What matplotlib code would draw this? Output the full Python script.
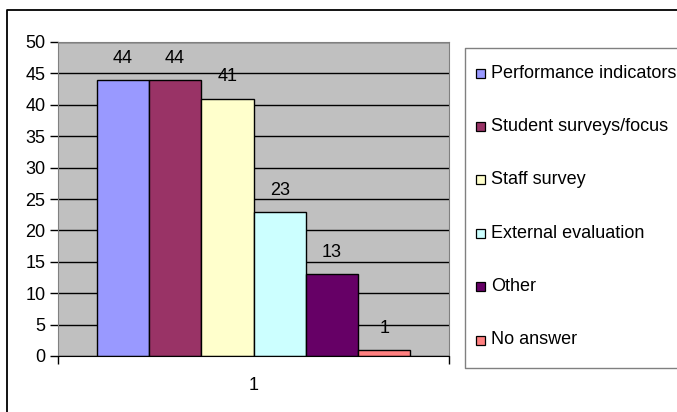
import matplotlib.pyplot as plt
from matplotlib.patches import Rectangle
from matplotlib.lines import Line2D

# datos de la encuesta
categorias = ["Performance indicators", "Student surveys/focus", "Staff survey",
              "External evaluation", "Other", "No answer"]
valores = [44, 44, 41, 23, 13, 1]
colores = ["#9999FF", "#993366", "#FFFFCC", "#CCFFFF", "#660066", "#FF8080"]
etiqueta_x = ["1"]

plt.rcParams["font.family"] = ["Liberation Sans", "DejaVu Sans"]
plt.rcParams["font.size"] = 13

W, H = 677, 412
fig = plt.figure(figsize=(W / 100, H / 100), dpi=100)


def linea(xs, ys, color, lw):
    # linea en pixeles de la figura (y medida desde arriba)
    fig.lines.append(Line2D([x / W for x in xs], [1 - y / H for y in ys],
                            transform=fig.transFigure, color=color, linewidth=lw))


# marco exterior: solo borde izquierdo y superior quedan dentro de la imagen
linea([7, 7, W + 5], [H + 5, 10, 10], "black", 1.3)

ax = fig.add_axes([58 / W, (H - 356) / H, 391 / W, 314 / H])
ax.set_facecolor("#C0C0C0")

n = len(valores)
ancho = 0.803 / n
posiciones = [(i - (n - 1) / 2) * ancho for i in range(n)]
barras = ax.bar(posiciones, valores, width=ancho, color=colores,
                edgecolor="black", linewidth=1, zorder=3)

for x, v in zip(posiciones, valores):
    ax.annotate(str(v), (x, v), xytext=(0, 15.5), textcoords="offset points",
                ha="center", va="center")

ax.set_xlim(-0.5, 0.5)
ax.set_ylim(0, 50)
ax.set_yticks(range(0, 51, 5))
ax.yaxis.grid(True, color="black", linewidth=1)
ax.set_axisbelow(True)
ax.tick_params(axis="y", direction="out", length=6, width=1, color="black", pad=3)

ax.set_xticks([0])
ax.set_xticklabels(etiqueta_x)
ax.set_xticks([-0.5, 0.5], minor=True)
ax.tick_params(axis="x", which="major", length=0, pad=15)
ax.tick_params(axis="x", which="minor", length=6, width=1, color="black")

for lado in ["top", "right", "left"]:
    ax.spines[lado].set_color("#808080")
ax.spines["bottom"].set_color("black")
ax.spines["bottom"].set_zorder(4)

# leyenda dibujada a mano, abierta por la derecha
linea([W + 5, 465, 465, W + 5], [48, 48, 368, 368], "#808080", 1)
for i, (cat, col) in enumerate(zip(categorias, colores)):
    yc = 73 + i * 53.4
    fig.text(491 / W, 1 - yc / H, cat, va="center", ha="left")
    fig.patches.append(Rectangle((476 / W, 1 - (yc + 4.5) / H), 9 / W, 9 / H,
                                 transform=fig.transFigure, facecolor=col,
                                 edgecolor="black", linewidth=0.9))

fig.savefig("out.png", dpi=100)
